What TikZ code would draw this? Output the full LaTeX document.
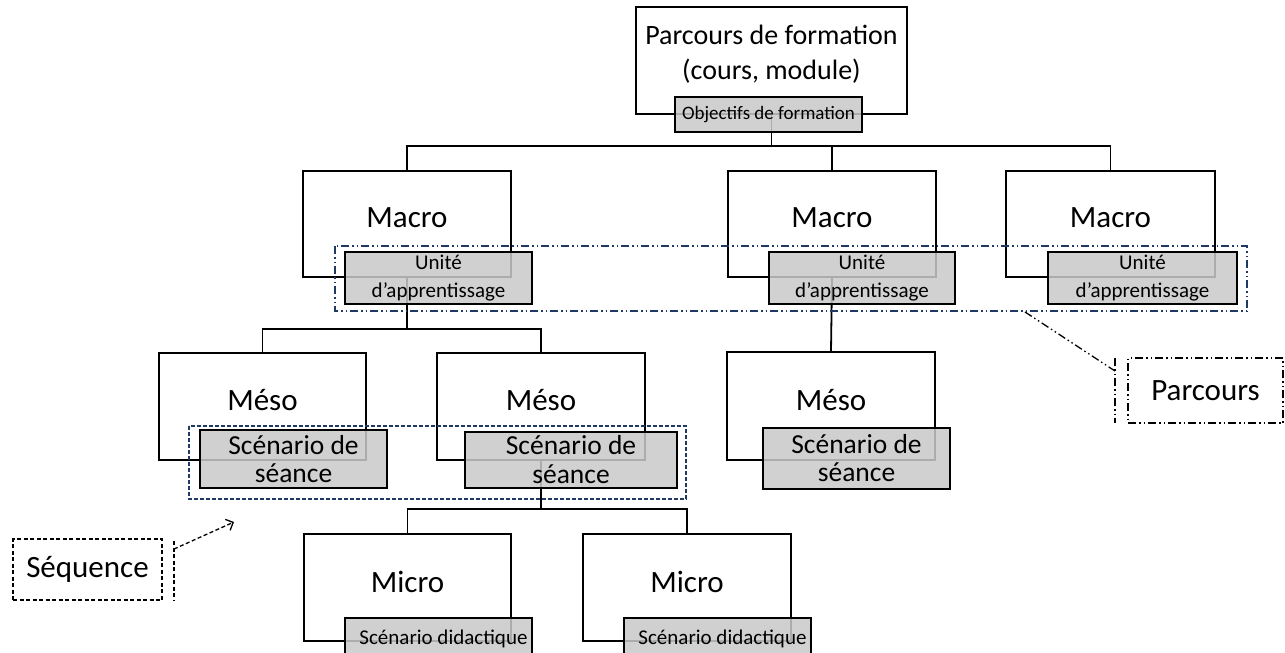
\documentclass[tikz,border=0pt]{standalone}
\usepackage{fontspec}
\setmainfont{Carlito}
\usetikzlibrary{arrows.meta,calc}
\definecolor{navy}{HTML}{203864}
\definecolor{gfill}{HTML}{C9C9C9}
\tikzset{
  wbox/.style={draw=black, line width=1.8pt, fill=white, minimum width=208pt, minimum height=106pt, inner sep=0pt},
  gbox/.style={draw=black, line width=2pt, fill=gfill, fill opacity=0.86, text opacity=1, inner sep=0pt, align=center},
  conn/.style={draw=black, line width=1.8pt},
  big/.style={font=\fontsize{31}{35}\selectfont},
  lab/.style={big, yshift=6pt},
  ddot/.style={dash pattern=on 8pt off 3pt on 1.5pt off 3pt on 1.5pt off 3pt},
  callbox/.style={draw=black, line width=1.3pt, ddot, minimum width=155pt, minimum height=65pt, inner sep=0pt, big},
}
\begin{document}
\begin{tikzpicture}[x=1pt,y=-1pt]
\useasboundingbox (0,0) rectangle (1285,653);
% white boxes
\node[wbox, minimum width=271pt, minimum height=107pt, label={[font=\fontsize{28}{35}\selectfont, yshift=6pt, align=center]center:Parcours de formation\\(cours, module)}] (top) at (771.5,60.5) {};
\node[wbox, label={[lab]center:Macro}] (m1) at (407,224) {};
\node[wbox, label={[lab]center:Macro}] (m2) at (832,224) {};
\node[wbox, minimum width=209pt, label={[lab]center:Macro}] (m3) at (1110.5,224) {};
\node[wbox, minimum width=207pt, minimum height=107pt, label={[lab]center:Méso}] (me1) at (262.5,406.5) {};
\node[wbox, minimum height=107pt, label={[lab]center:Méso}] (me2) at (541,406.5) {};
\node[wbox, minimum height=108pt, label={[lab]center:Méso}] (me3) at (831,406) {};
\node[wbox, minimum width=207pt, minimum height=107pt, label={[lab]center:Micro}] (mi1) at (407.5,587.5) {};
\node[wbox, minimum height=107pt, label={[lab]center:Micro}] (mi2) at (687,587.5) {};
% connectors
\draw[conn] (top.south) -- (top.south |- 0,146) coordinate (j0) -| (m1.north);
\draw[conn] (j0) -| (m2.north);
\draw[conn] (j0) -| (m3.north);
\draw[conn] (m1.south) -- (m1.south |- 0,329) coordinate (j1) -| (me1.north);
\draw[conn] (j1) -| (me2.north);
\draw[conn] (m2.south) -- (me3.north);
\draw[conn] (me2.south) -- (me2.south |- 0,509) coordinate (j2) -| (mi1.north);
\draw[conn] (j2) -| (mi2.north);
% gray boxes
\node[gbox, minimum width=187pt, minimum height=35pt, font=\fontsize{19}{22}\selectfont] (obj) at (768.5,114.5) {Objectifs de formation};
\node[gbox, minimum width=187pt, minimum height=52pt, font=\fontsize{21}{28}\selectfont] (u1) at (438.5,278) {Unité\\d’apprentissage};
\node[gbox, minimum width=186pt, minimum height=52pt, font=\fontsize{21}{28}\selectfont] (u2) at (862,278) {Unité\\d’apprentissage};
\node[gbox, minimum width=189pt, minimum height=52pt, font=\fontsize{21}{28}\selectfont] (u3) at (1142.5,278) {Unité\\d’apprentissage};
\node[gbox, minimum width=187pt, minimum height=58pt, font=\fontsize{27.5}{28}\selectfont] (s1) at (293.5,459) {Scénario de\\séance};
\node[gbox, minimum width=212pt, minimum height=56pt, font=\fontsize{27.5}{29}\selectfont] (s2) at (571,460) {Scénario de\\séance};
\node[gbox, minimum width=187pt, minimum height=61pt, font=\fontsize{27.5}{28}\selectfont] (s3) at (856.5,458.5) {Scénario de\\séance};
\node[gbox, minimum width=187pt, minimum height=42pt, font=\fontsize{21}{24}\selectfont] (g1) at (438.5,639) {\hspace{10pt}Scénario didactique};
\node[gbox, minimum width=187pt, minimum height=42pt, font=\fontsize{21}{24}\selectfont] (g2) at (717.5,639) {\hspace{10pt}Scénario didactique};
% group frames
\draw[navy, line width=1.4pt, ddot] (335,246) rectangle (1247,311);
\draw[navy, line width=1.2pt, dash pattern=on 4pt off 2pt] (189,426) rectangle (686,499);
% Parcours callout
\node[callbox] (pc) at (1205.5,390.5) {Parcours};
\coordinate (pbt) at (1115,358);
\coordinate (pbb) at (1115,423);
\coordinate (pbj) at (1115,371);
\coordinate (pl) at (1025,312);
\draw[line width=1.3pt, ddot] (pbt) -- (pbb);
\draw[line width=1.3pt, ddot] (pl) -- (pbj);
% Sequence callout
\node[draw=black, line width=1.3pt, dash pattern=on 4pt off 2.5pt, minimum width=149pt, minimum height=61pt, inner sep=0pt, big] (sq) at (87.5,569.5) {Séquence};
\coordinate (sbt) at (174,541);
\coordinate (sbb) at (174,600);
\coordinate (sbj) at (174,549);
\coordinate (sl) at (234,522);
\draw[line width=1.3pt, dash pattern=on 4pt off 2.5pt] (sbt) -- (sbb);
\draw[line width=1.3pt, dash pattern=on 4pt off 2.5pt, -{Straight Barb[length=6pt,width=12pt]}] (sbj) -- (sl);
\end{tikzpicture}
\end{document}
